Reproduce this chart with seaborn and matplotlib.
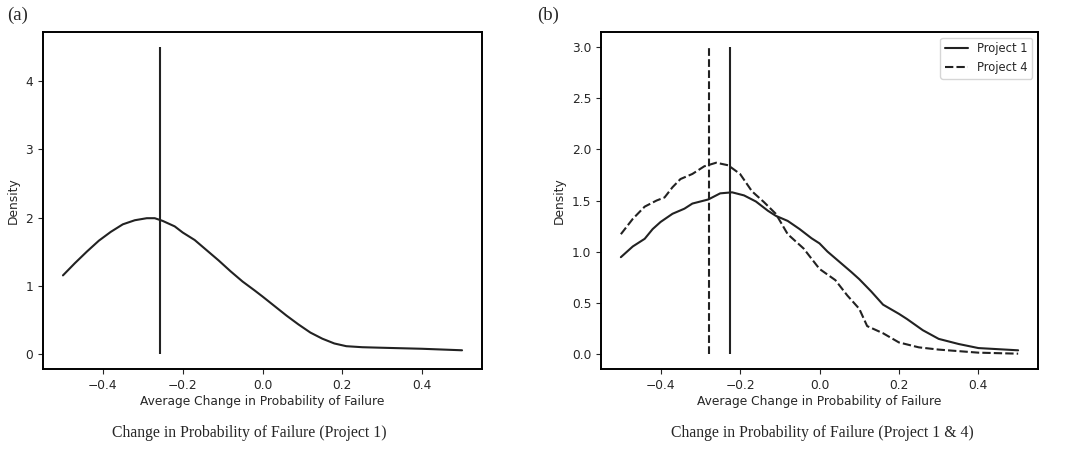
import seaborn as sns
import matplotlib.pyplot as plt
import pandas as pd

# panel (a): Project 1
x_a = [-0.5, -0.47, -0.44, -0.41, -0.38, -0.35, -0.32, -0.29, -0.27, -0.25,
       -0.22, -0.2, -0.17, -0.14, -0.11, -0.08, -0.05, -0.02, 0.0, 0.03,
       0.06, 0.09, 0.12, 0.15, 0.18, 0.21, 0.25, 0.3, 0.4, 0.5]
y_a = [1.15, 1.33, 1.50, 1.66, 1.79, 1.90, 1.96, 1.99, 1.99, 1.95,
       1.87, 1.78, 1.67, 1.52, 1.37, 1.21, 1.06, 0.93, 0.84, 0.70,
       0.56, 0.43, 0.31, 0.22, 0.15, 0.11, 0.095, 0.087, 0.072, 0.05]
mean_a = -0.257
vline_top_a = 4.5

# panel (b): Project 1 and Project 4
x_b1 = [-0.5, -0.47, -0.44, -0.42, -0.4, -0.37, -0.34, -0.32, -0.28, -0.25, -0.22,
        -0.19, -0.16, -0.13, -0.11, -0.08, -0.05, -0.02, 0.0, 0.02, 0.05, 0.08,
        0.1, 0.13, 0.16, 0.2, 0.22, 0.26, 0.3, 0.35, 0.4, 0.5]
y_b1 = [0.945, 1.05, 1.125, 1.22, 1.29, 1.37, 1.42, 1.47, 1.51, 1.57, 1.58,
        1.55, 1.49, 1.40, 1.35, 1.30, 1.22, 1.13, 1.08, 1.00, 0.90, 0.80,
        0.73, 0.61, 0.48, 0.39, 0.34, 0.23, 0.145, 0.095, 0.055, 0.033]
x_b4 = [-0.5, -0.47, -0.44, -0.41, -0.39, -0.37, -0.35, -0.32, -0.29, -0.26, -0.23,
        -0.2, -0.17, -0.14, -0.11, -0.08, -0.04, 0.0, 0.04, 0.07, 0.1, 0.12,
        0.16, 0.2, 0.25, 0.3, 0.35, 0.4, 0.5]
y_b4 = [1.17, 1.32, 1.44, 1.50, 1.53, 1.63, 1.71, 1.76, 1.835, 1.87, 1.845,
        1.76, 1.59, 1.485, 1.37, 1.17, 1.03, 0.83, 0.72, 0.57, 0.44, 0.27,
        0.20, 0.11, 0.062, 0.04, 0.025, 0.01, 0.0]
mean_b1 = -0.226
mean_b4 = -0.279
vline_top_b = 3.0

line_color = '#222222'
fs = 8.8

sns.set_style("ticks")
plt.rcParams['font.family'] = ['DejaVu Sans']
plt.rcParams['axes.edgecolor'] = 'black'
plt.rcParams['axes.linewidth'] = 1.4

fig = plt.figure(figsize=(10.71, 4.55), dpi=100)
ax1 = fig.add_axes([43 / 1071, 1 - 369 / 455, 439 / 1071, 337 / 455])
ax2 = fig.add_axes([601 / 1071, 1 - 369 / 455, 437 / 1071, 337 / 455])

# (a)
df_a = pd.DataFrame({'x': x_a, 'y': y_a})
sns.lineplot(data=df_a, x='x', y='y', ax=ax1, color=line_color, lw=1.5)
ax1.vlines(mean_a, 0, vline_top_a, color=line_color, lw=1.5)

# (b)
df_b = pd.concat([
    pd.DataFrame({'x': x_b1, 'y': y_b1, 'project': 'Project 1'}),
    pd.DataFrame({'x': x_b4, 'y': y_b4, 'project': 'Project 4'}),
])
sns.lineplot(data=df_b, x='x', y='y', hue='project', style='project',
             palette=[line_color, line_color], ax=ax2, lw=1.5)
ax2.vlines(mean_b1, 0, vline_top_b, color=line_color, lw=1.5)
ax2.vlines(mean_b4, 0, vline_top_b, color=line_color, lw=1.5, linestyles='--')
ax2.legend(loc='upper right', fontsize=8.3, frameon=True)

for ax in (ax1, ax2):
    ax.set_xlabel('Average Change in Probability of Failure', fontsize=fs,
                  color='#262626', labelpad=2)
    ax.set_ylabel('Density', fontsize=fs, color='#262626')
    ax.tick_params(labelsize=fs, colors='#262626')
    for s in ax.spines.values():
        s.set_visible(True)
    ax.set_xticks([-0.4, -0.2, 0.0, 0.2, 0.4])
    ax.set_xlim(-0.55, 0.55)

ax1.set_ylim(-0.225, 4.725)
ax1.set_yticks([0, 1, 2, 3, 4])
ax2.set_ylim(-0.15, 3.15)
ax2.set_yticks([0.0, 0.5, 1.0, 1.5, 2.0, 2.5, 3.0])

serif = ['Liberation Serif', 'DejaVu Serif']
fig.text(7 / 1071, 1 - 15 / 455, '(a)', family=serif, fontsize=13.5, va='center')
fig.text(537 / 1071, 1 - 15 / 455, '(b)', family=serif, fontsize=13.5, va='center')
fig.text(249 / 1071, 1 - 433 / 455, 'Change in Probability of Failure (Project 1)',
         family=serif, fontsize=11.3, ha='center', va='center')
fig.text(822 / 1071, 1 - 433 / 455, 'Change in Probability of Failure (Project 1 & 4)',
         family=serif, fontsize=11.3, ha='center', va='center')

plt.savefig('out.png', dpi=100)
plt.close()
